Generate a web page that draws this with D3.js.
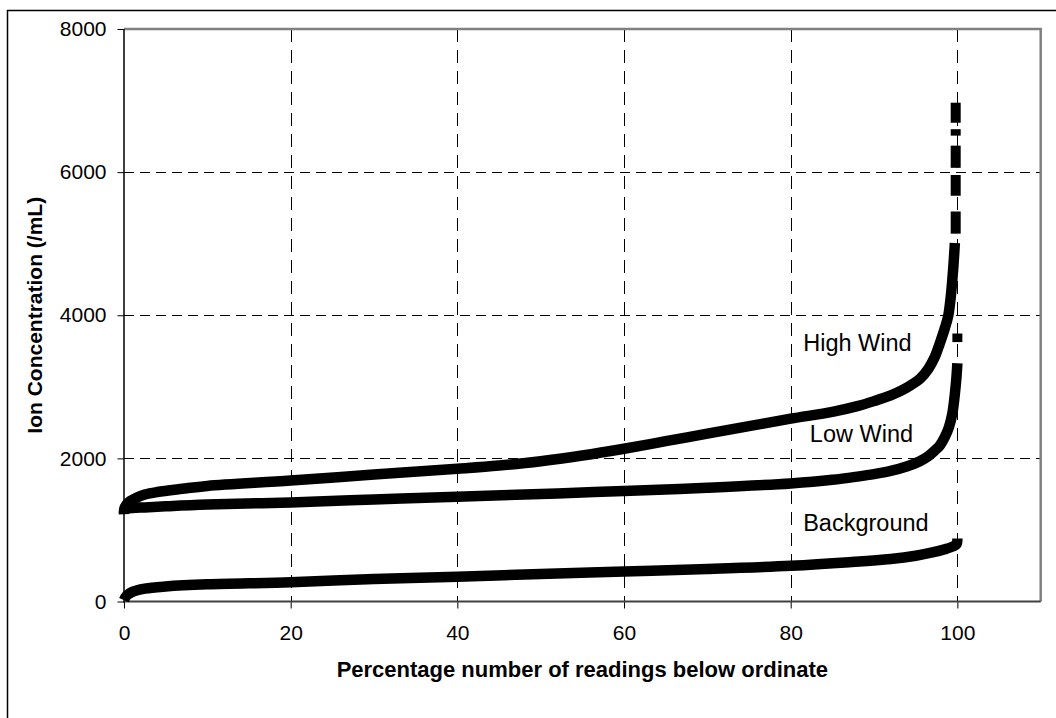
<!DOCTYPE html>
<html>
<head>
<meta charset="utf-8">
<script src="https://cdn.jsdelivr.net/npm/d3@7"></script>
<style>
  body { margin: 0; background: #fff; }
  text { font-family: Arial, "Liberation Sans", sans-serif; }
</style>
</head>
<body>
<div id="chart"></div>
<script>
// Tick values
var xTicks = [0, 20, 40, 60, 80, 100];
var yTicks = [0, 2000, 4000, 6000, 8000];

// Series: [percentage, ion concentration]
var highWind = [[0, 1240], [0.1, 1320], [0.6, 1390], [1.5, 1450], [2.5, 1495], [4, 1530],
  [7, 1575], [10, 1615], [20, 1690], [30, 1775], [40, 1855], [45, 1900], [50, 1960],
  [55, 2040], [60, 2135], [65, 2240], [70, 2345], [75, 2450], [80, 2555], [85, 2650],
  [88, 2730], [90, 2800], [92, 2880], [93.5, 2960], [94.5, 3030], [95.5, 3110],
  [96.5, 3250], [97.3, 3420], [97.9, 3610], [98.5, 3820], [98.9, 3990], [99.2, 4250],
  [99.5, 4650], [99.7, 5010]];
// isolated readings at the top end: [percentage, from, to]
var highWindTail = [[99.8, 5140, 5450], [99.8, 5670, 5960], [99.8, 6060, 6370],
  [99.8, 6510, 6600], [99.8, 6690, 6970]];

var lowWind = [[0, 1220], [0.1, 1290], [1, 1305], [2.5, 1315], [5, 1330], [10, 1355],
  [20, 1385], [30, 1425], [40, 1465], [52, 1510], [60, 1545], [70, 1590], [80, 1650],
  [85, 1700], [88, 1745], [90, 1780], [92, 1825], [94, 1890], [95.5, 1960], [96.5, 2030],
  [97.3, 2110], [97.9, 2180], [98.5, 2300], [99, 2440], [99.4, 2630], [99.7, 2900],
  [99.9, 3150], [100, 3330]];
var lowWindTail = [[100, 3625, 3745]];

var background = [[0, 20], [0.3, 80], [1, 135], [2.5, 180], [5, 210], [10, 240], [20, 268],
  [30, 315], [40, 345], [50, 385], [60, 420], [70, 455], [80, 500], [87, 550], [92, 595],
  [95, 640], [97, 685], [98.5, 730], [99.5, 770], [99.9, 800], [100, 880]];

var seriesNames = ["High Wind", "Low Wind", "Background"];

var visualize = function() {
  var W = 1056, H = 718;
  var left = 124, top = 29, right = 1040.7, bottom = 601.5;

  var svg = d3.select("#chart")
    .append("svg")
    .attr("width", W)
    .attr("height", H);

  svg.append("rect").attr("width", W).attr("height", H).attr("fill", "#fff");

  // outer chart frame
  svg.append("rect")
    .attr("x", 7.5).attr("y", 10.5)
    .attr("width", W + 20).attr("height", H + 20)
    .attr("fill", "none").attr("stroke", "#000").attr("stroke-width", 1.5);

  var x = d3.scaleLinear().domain([0, 110]).range([left, right]);
  var y = d3.scaleLinear().domain([0, 8000]).range([bottom, top]);

  // gridlines
  svg.append("g").selectAll("line")
    .data(yTicks.filter(function(d) { return d > 0 && d < 8000; }))
    .enter().append("line")
    .attr("x1", left).attr("x2", right)
    .attr("y1", function(d) { return Math.round(y(d)) + 0.5; })
    .attr("y2", function(d) { return Math.round(y(d)) + 0.5; })
    .attr("stroke", "#000").attr("stroke-dasharray", "10,6");

  svg.append("g").selectAll("line")
    .data(xTicks.filter(function(d) { return d > 0; }))
    .enter().append("line")
    .attr("x1", function(d) { return Math.round(x(d)) + 0.5; })
    .attr("x2", function(d) { return Math.round(x(d)) + 0.5; })
    .attr("y1", top).attr("y2", bottom)
    .attr("stroke", "#000").attr("stroke-dasharray", "13,8");

  // plot area border (top / right grey)
  svg.append("path")
    .attr("d", "M" + left + "," + top + "H" + right + "V" + bottom)
    .attr("fill", "none").attr("stroke", "#808080").attr("stroke-width", 2.5);

  // axes
  var xAxis = d3.axisBottom(x).tickValues(xTicks).tickSize(7).tickPadding(16.5)
    .tickFormat(d3.format("d"));
  var yAxis = d3.axisLeft(y).tickValues(yTicks).tickSize(6.5).tickPadding(11)
    .tickFormat(d3.format("d"));

  var gx = svg.append("g").attr("transform", "translate(0," + bottom + ")").call(xAxis);
  var gy = svg.append("g").attr("transform", "translate(" + left + ",0)").call(yAxis);

  [gx, gy].forEach(function(g) {
    g.select(".domain").remove();
    g.selectAll("text").style("font-size", "21px").attr("fill", "#000");
    g.selectAll(".tick line").attr("stroke", "#000");
  });

  svg.append("line")
    .attr("x1", left).attr("x2", right).attr("y1", bottom).attr("y2", bottom)
    .attr("stroke", "#404040").attr("stroke-width", 2);
  svg.append("line")
    .attr("x1", left).attr("x2", left).attr("y1", top).attr("y2", bottom + 1)
    .attr("stroke", "#000").attr("stroke-width", 1.5);

  // series
  var line = d3.line()
    .x(function(d) { return x(d[0]); })
    .y(function(d) { return y(d[1]); })
    .curve(d3.curveCatmullRom.alpha(0.5));

  [highWind, lowWind, background].forEach(function(s) {
    svg.append("path")
      .attr("d", line(s))
      .attr("fill", "none")
      .attr("stroke", "#000")
      .attr("stroke-width", 10.5)
      .attr("stroke-linejoin", "round")
      .attr("stroke-linecap", "butt");
  });

  svg.append("g").selectAll("line")
    .data(highWindTail.concat(lowWindTail))
    .enter().append("line")
    .attr("x1", function(d) { return x(d[0]); })
    .attr("x2", function(d) { return x(d[0]); })
    .attr("y1", function(d) { return y(d[1]); })
    .attr("y2", function(d) { return y(d[2]); })
    .attr("stroke", "#000")
    .attr("stroke-width", 10);

  // series labels
  var labelPos = [[81.5, 3500], [82.3, 2230], [81.5, 985]];
  svg.append("g").selectAll("text")
    .data(seriesNames)
    .enter().append("text")
    .attr("x", function(d, i) { return x(labelPos[i][0]); })
    .attr("y", function(d, i) { return y(labelPos[i][1]); })
    .style("font-size", "23.5px")
    .text(function(d) { return d; });

  // axis titles
  svg.append("text")
    .attr("x", (left + right) / 2)
    .attr("y", 677)
    .attr("text-anchor", "middle")
    .style("font-size", "22px")
    .style("font-weight", "bold")
    .text("Percentage number of readings below ordinate");

  svg.append("text")
    .attr("transform", "translate(42," + ((top + bottom) / 2) + ") rotate(-90)")
    .attr("text-anchor", "middle")
    .style("font-size", "21px")
    .style("font-weight", "bold")
    .text("Ion Concentration (/mL)");
};

visualize();
</script>
</body>
</html>
